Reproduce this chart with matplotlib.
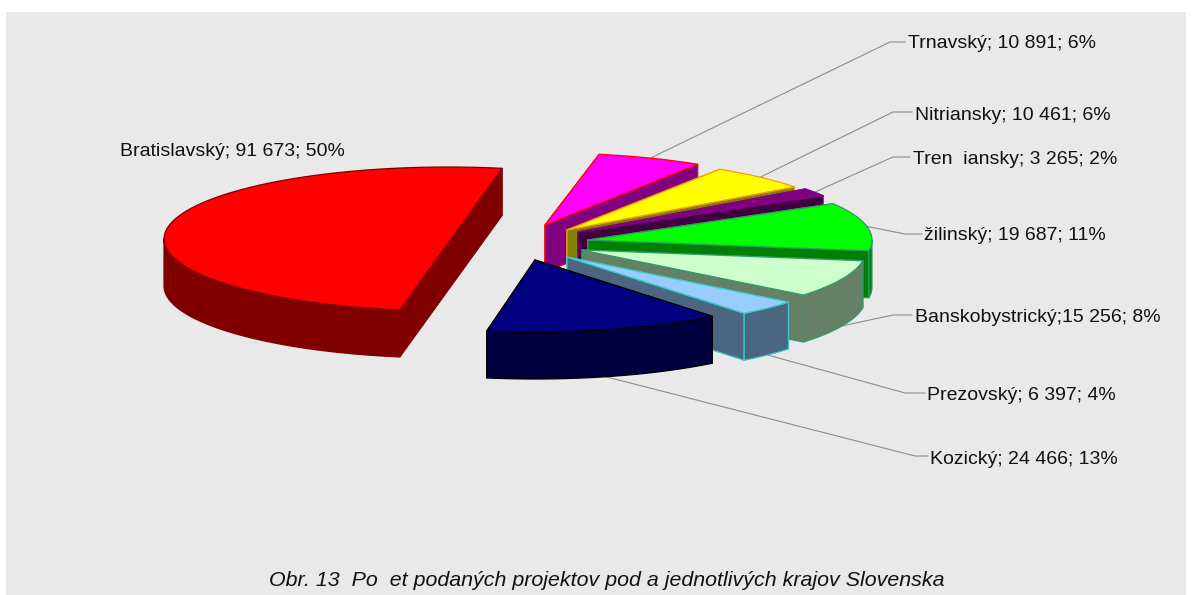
import numpy as np
import matplotlib
matplotlib.use("Agg")
import matplotlib.pyplot as plt
from matplotlib.patches import Polygon, Rectangle

plt.rcParams['font.family'] = ['Liberation Sans', 'DejaVu Sans']

# clockwise from the top, same order as the source chart
regions = ["Trnavský", "Nitriansky", "Trenčiansky", "Žilinský",
           "Banskobystrický", "Prešovský", "Košický", "Bratislavský"]
projects = [10891, 10461, 3265, 19687, 15256, 6397, 24466, 91673]
labels = ["Trnavský; 10 891; 6%", "Nitriansky; 10 461; 6%", "Tren  iansky; 3 265; 2%",
          "žilinský; 19 687; 11%", "Banskobystrický;15 256; 8%", "Prezovský; 6 397; 4%",
          "Kozický; 24 466; 13%", "Bratislavský; 91 673; 50%"]
caption = "Obr. 13  Po  et podaných projektov pod a jednotlivých krajov Slovenska"

top_colors = ["#FF00FF", "#FFFF00", "#800080", "#00FF00", "#CCFFCC", "#99CCFF", "#000080", "#FF0000"]
side_colors = ["#800080", "#808000", "#400040", "#008000", "#668066", "#4D6680", "#000040", "#800000"]
edge_colors = ["#FF0000", "#FF9900", "#800080", "#339966", "#339966", "#33CCCC", "#000000", "#800000"]

# exploded apex of each slice, in pixels
apex = [(545, 225), (567, 230), (578, 232), (588, 240), (582, 250), (567, 257), (535, 260), (448, 239)]
# elbow and end of the leader lines, last slice has none
elbows = [(890, 42), (893, 112), (893, 157), (905, 234), (893, 315), (905, 393), (915, 456), None]
ends = [(905, 42), (912, 112), (910, 157), (922, 234), (912, 315), (925, 393), (928, 456), None]
label_pos = [(908, 44), (915, 115), (913, 159), (924, 236), (915, 317), (927, 395), (930, 459), (120, 152)]

RX, RY = 284, 72
DEPTH = 47
START = 79.0


def arc_points(cx, cy, a0, a1, drop=0):
    t = np.radians(np.linspace(a0, a1, 80))
    return np.column_stack([cx + RX * np.cos(t), cy - RY * np.sin(t) + drop])


def front_part(a0, a1):
    # only the part of the rim between 0 and -180 deg faces the viewer
    lo, hi = max(a1, -180.0), min(a0, 0.0)
    return (hi, lo) if hi > lo else None


fig = plt.figure(figsize=(11.92, 5.95), dpi=100)
ax = fig.add_axes([0, 0, 1, 1])
ax.set_xlim(0, 1192)
ax.set_ylim(595, 0)
ax.axis("off")
ax.add_patch(Rectangle((6, 12), 1180, 583, fc="#E9E9E9", ec="none", zorder=0))

shares = np.array(projects) / sum(projects) * 360
a_from = START - np.concatenate([[0], np.cumsum(shares)[:-1]])
a_to = a_from - shares

# leader lines go under the slices
for i in range(len(projects)):
    if elbows[i] is None:
        continue
    mid = (a_from[i] + a_to[i]) / 2
    cx, cy = apex[i]
    t = np.radians(mid)
    sx = cx + RX * np.cos(t)
    sy = cy - RY * np.sin(t) + (DEPTH if mid < -15 else 0)
    ax.plot([sx, elbows[i][0], ends[i][0]], [sy, elbows[i][1], ends[i][1]],
            color="#8C8C8C", lw=0.8, zorder=1, solid_joinstyle="miter")

# red one first, then around from the back to the front
for z, i in enumerate([7, 0, 1, 2, 3, 4, 5, 6]):
    cx, cy = apex[i]
    a0, a1 = a_from[i], a_to[i]
    arc = arc_points(cx, cy, a0, a1)
    base = 2 + z * 5
    # the half pie has a straight cut in the source, no corner at the apex
    half = shares[i] > 180
    if half:
        faces = [[arc[0], arc[-1], arc[-1] + (0, DEPTH), arc[0] + (0, DEPTH)]]
        top = arc
    else:
        faces = [[(cx, cy), p, (p[0], p[1] + DEPTH), (cx, cy + DEPTH)] for p in (arc[0], arc[-1])]
        top = np.vstack([[(cx, cy)], arc])
    for face in faces:
        ax.add_patch(Polygon(face, fc=side_colors[i], ec=edge_colors[i], lw=0.9, zorder=base,
                             joinstyle="round"))
    front = front_part(a0, a1)
    if front:
        upper = arc_points(cx, cy, front[0], front[1])
        lower = arc_points(cx, cy, front[0], front[1], DEPTH)
        ax.add_patch(Polygon(np.vstack([upper, lower[::-1]]), fc=side_colors[i], ec=edge_colors[i],
                             lw=0.9, zorder=base + 1, joinstyle="round"))
    ax.add_patch(Polygon(top, fc=top_colors[i], ec=edge_colors[i], lw=0.9, zorder=base + 2,
                         joinstyle="round"))

for lab, (x, y) in zip(labels, label_pos):
    ax.text(x, y, lab, fontsize=14, color="#111111", ha="left", va="center", zorder=60)

ax.text(607, 580, caption, fontsize=15.4, style="italic", color="#111111",
        ha="center", va="center", zorder=60)

fig.savefig("out.png", dpi=100, facecolor="white")
